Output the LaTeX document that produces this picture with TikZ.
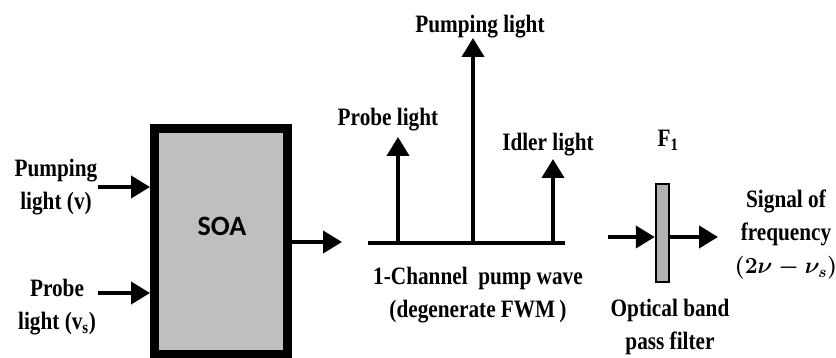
\documentclass[tikz,border=0pt]{standalone}
\usepackage{fix-cm}
\usepackage{fontspec}
\setmainfont[FakeStretch=0.85]{Liberation Serif}
\newfontfamily\soafont{Carlito}
\usetikzlibrary{arrows.meta,positioning}

\begin{document}
\begin{tikzpicture}[x=1pt, y=-1pt,
  font=\bfseries\fontsize{25}{33}\selectfont,
  lab/.style ={inner sep=0pt, align=center},
  amp/.style ={draw, line width=9pt, fill=black!25, minimum width=133pt,
               minimum height=225pt, inner sep=0pt},
  filt/.style={draw, line width=2.5pt, fill=black!30, minimum width=13pt,
               minimum height=98pt, inner sep=0pt},
  fl/.style  ={-{Triangle[length=19pt,width=22pt]}, line width=4pt},
  axis/.style={line width=4pt}]
\useasboundingbox (0,0) rectangle (836,358);

% amplifier
\node[amp] (soa) at (221,241.5) {};
\node[font=\soafont\bfseries\fontsize{28}{30}\selectfont] (soatxt) at (222,226) {SOA};

\node[lab] (pumpin) at (56,187) {Pumping\\light (v)};
\draw[fl] (pumpin.east) -- (pumpin.east -| soa.west);
\node[lab] (probein) at (57,307) {Probe\\light (v\textsubscript{s})};
\coordinate (probe0) at (98,293);
\draw[fl] (probe0) -- (probe0 -| soa.west);
\coordinate (soa0) at (342,242);
\draw[fl] (soa0 -| soa.east) -- (soa0);

% spectrum
\coordinate (bl) at (368,243);
\coordinate (br) at (565,243);
\draw[axis] (bl) -- (br);
\coordinate (probe) at (398,137);
\coordinate (pump) at (473,38);
\coordinate (idler) at (553,159);
\foreach \s in {probe,pump,idler}
  \draw[fl] (\s |- bl) -- (\s);
\node[lab] (probelab) at (388,120) {Probe light};
\node[lab] (pumplab) at (480,27) {Pumping light};
\node[lab] (idlerlab) at (548,145) {Idler light};
\node[lab] (fwm) at (478,295) {1-Channel\ \ pump wave\\(degenerate FWM\,)};

% filter
\node[filt] (f1) at (662.5,233) {};
\node[lab] (f1lab) at (668,140) {F\textsubscript{1}};
\coordinate (fin) at (608,237);
\draw[fl] (fin) -- (fin -| f1.west);
\coordinate (fout) at (718,237);
\draw[fl] (fout -| f1.east) -- (fout);
\node[lab] (sig) at (786,235) {Signal of\\frequency\\{\fontsize{23}{33}\selectfont\boldmath$(2\nu-\nu_s)$}};
\node[lab] (bpf) at (670,327) {Optical band\\pass filter};
\end{tikzpicture}
\end{document}
